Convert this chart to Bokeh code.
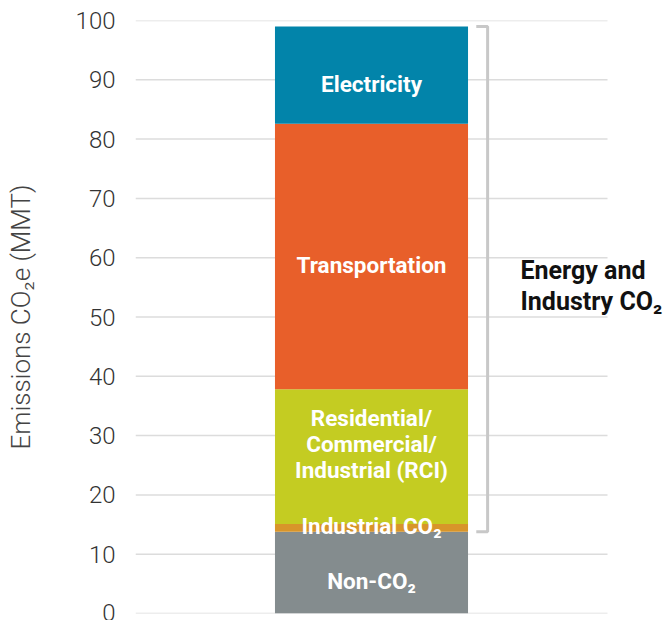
from bokeh.plotting import figure
from bokeh.models import Range1d, FixedTicker, ColumnDataSource
from bokeh.core.properties import value
from bokeh.embed import file_html
from bokeh.resources import INLINE

# ---- data ----
categories = ["Non-CO₂", "Industrial CO₂", "Residential/Commercial/Industrial (RCI)",
              "Transportation", "Electricity"]
bar_labels = ["Non-CO₂", "Industrial CO₂", "Residential/\nCommercial/\nIndustrial (RCI)",
              "Transportation", "Electricity"]
emissions = [13.8, 1.3, 22.7, 44.8, 16.4]
y_ticks = [0, 10, 20, 30, 40, 50, 60, 70, 80, 90, 100]
bracket_label = "Energy and\nIndustry CO₂"
y_label = "Emissions CO₂e (MMT)"

# ---- style ----
colors = ["#848c8e", "#d8952a", "#c4cc22", "#e85f2a", "#0284aa"]
label_offsets = [8, -2, -13, 8, 9]
FONT = "Roboto"
LIGHT = "'Roboto Light', Roboto"

bottoms, tops = [], []
acc = 0.0
for v in emissions:
    bottoms.append(acc)
    acc += v
    tops.append(acc)
mids = [(b + t) / 2 for b, t in zip(bottoms, tops)]

src = ColumnDataSource(dict(cat=categories, lab=bar_labels, bottom=bottoms, top=tops,
                            mid=mids, color=colors, x=[0.5] * len(categories),
                            off=label_offsets))

p = figure(width=663, height=620, output_backend="svg", toolbar_location=None,
           x_range=Range1d(0, 528 / 472), y_range=Range1d(0, 100),
           min_border_left=135, min_border_right=0, min_border_top=20,
           min_border_bottom=7)
p.outline_line_color = None
p.background_fill_color = "white"
p.border_fill_color = "white"

p.xaxis.visible = False
p.xgrid.visible = False
p.ygrid.visible = False

p.yaxis.ticker = FixedTicker(ticks=y_ticks)
p.yaxis.axis_line_color = None
p.yaxis.major_tick_line_color = None
p.yaxis.minor_tick_line_color = None
p.yaxis.major_tick_out = 0
p.yaxis.major_label_standoff = 20
p.yaxis.major_label_text_font = LIGHT
p.yaxis.major_label_text_font_size = "24px"
p.yaxis.major_label_text_color = "#333333"
p.yaxis.axis_label = y_label
p.yaxis.axis_label_text_font = LIGHT
p.yaxis.axis_label_text_font_style = "normal"
p.yaxis.axis_label_text_font_size = "26px"
p.yaxis.axis_label_text_color = "#444444"
p.yaxis.axis_label_standoff = 37

# horizontal grid lines (limited to the chart body)
p.segment(x0=0, x1=1, y0=y_ticks, y1=y_ticks, line_color="#dcdcdc", line_width=1.5)

p.vbar(x="x", width=0.409, bottom="bottom", top="top", color="color", source=src,
       line_color=None)

p.text(x="x", y="mid", text="lab", y_offset="off", source=src,
       text_color="white", text_font=value(FONT), text_font_style="bold",
       text_font_size="22.5px", text_align="center", text_baseline="middle",
       text_line_height=1.0)

# bracket spanning the energy & industry CO2 segments
b_lo = tops[0]
b_hi = tops[-1]
p.line(x=[0.722, 0.746, 0.746, 0.722], y=[b_hi, b_hi, b_lo, b_lo],
       line_color="#c8c8c8", line_width=3)

p.text(x=[0.8157], y=[(b_lo + b_hi) / 2], text=[bracket_label], y_offset=7,
       text_font=value(FONT), text_font_style="bold", text_font_size="25px",
       text_color="#111111", text_align="left", text_baseline="middle",
       text_line_height=1.1)

open("out.html", "w").write(file_html(p, INLINE))
